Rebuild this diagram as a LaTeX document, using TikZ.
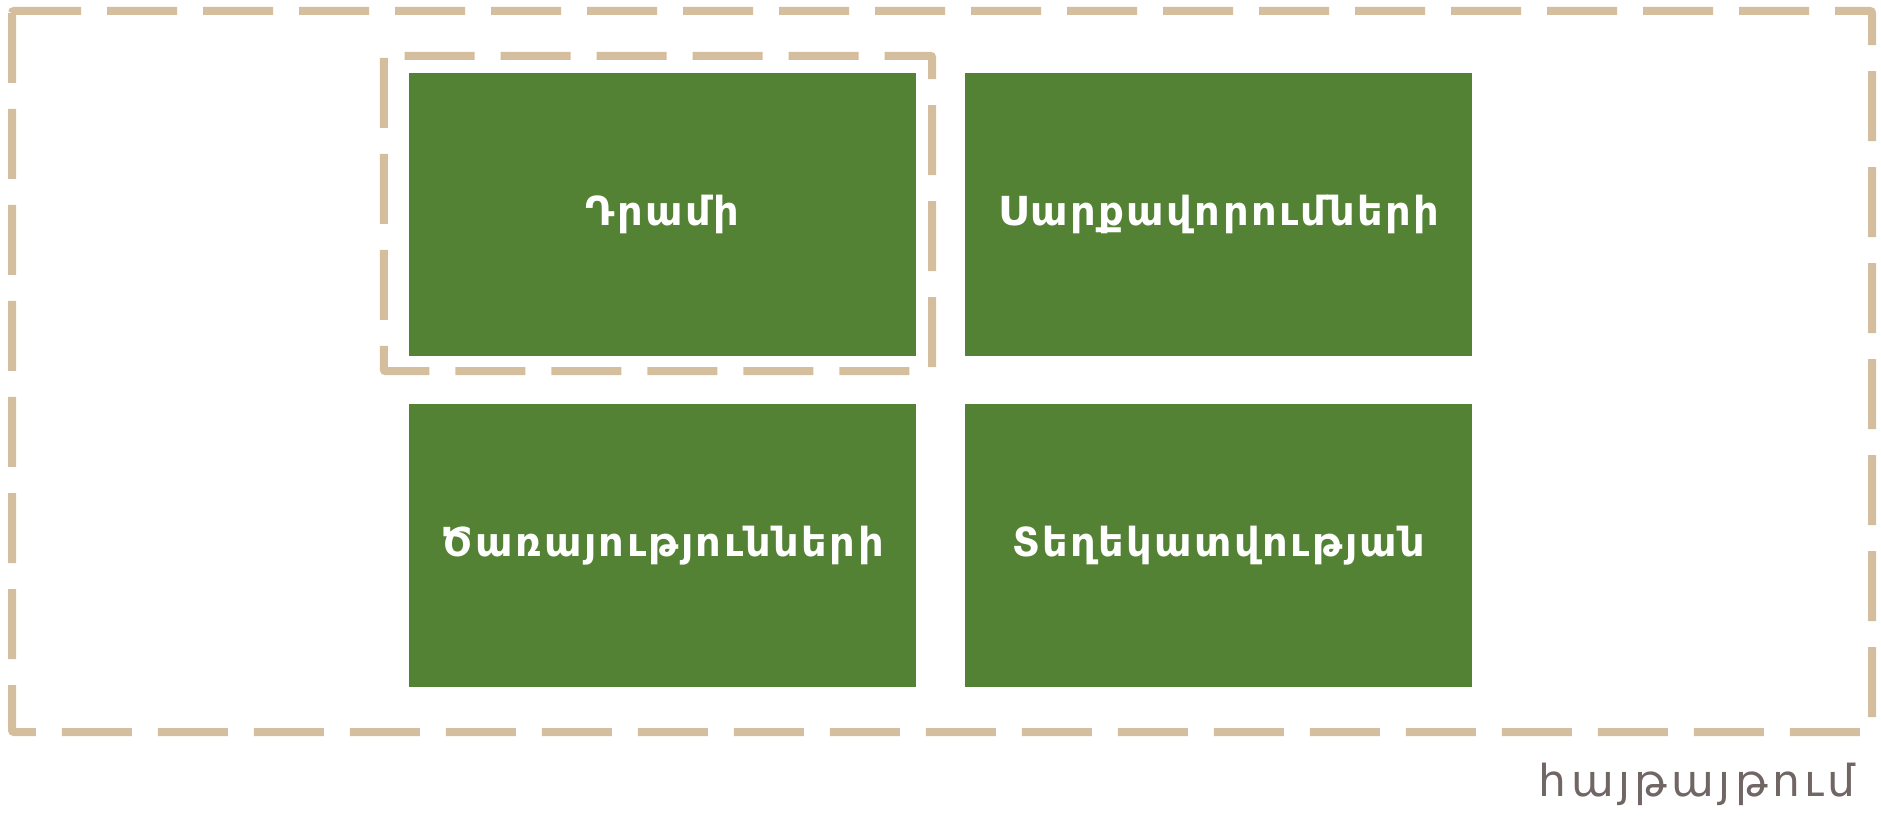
\documentclass[tikz,border=0pt]{standalone}
\usepackage{fontspec}
\setmainfont{DejaVu Sans}
\usepackage{tikz}
\usetikzlibrary{positioning}

\definecolor{leafgreen}{RGB}{84,130,53}
\definecolor{sandline}{RGB}{213,190,158}
\definecolor{stonegrey}{RGB}{112,102,100}

\begin{document}
\begin{tikzpicture}[
  x=1pt,y=1pt,
  node distance=48pt and 49pt,
  tile/.style={rectangle,fill=leafgreen,text=white,inner sep=0pt,
               minimum width=507pt,minimum height=283pt,
               font=\fontsize{40}{46}\selectfont\bfseries\addfontfeature{LetterSpace=6}},
  dashbox/.style={draw=sandline,line width=8pt,rounded corners=2pt,
                  dash pattern=on 70pt off 26pt},
  brand/.style={text=stonegrey,inner sep=0pt,
                font=\fontsize{44}{50}\selectfont\addfontfeature{LetterSpace=10}}
]
  \useasboundingbox (0,0) rectangle (1881,820);

  \node[tile] (money) at (662.5,605.5) {Դրամի};
  \node[tile,right=of money] (equip) {Սարքավորումների};
  \node[tile,below=of money] (service) {Ծառայությունների};
  \node[tile,below=of equip] (info) {Տեղեկատվության};

  % outer frame and the frame round the first tile
  \draw[dashbox] (12,809) rectangle (1872,88);
  \draw[dashbox] ([xshift=-25pt,yshift=17pt]money.north west)
    rectangle ([xshift=16pt,yshift=-15pt]money.south east);

  \node[brand,anchor=base east] (caption) at (1856,24) {հայթայթում};
\end{tikzpicture}
\end{document}
